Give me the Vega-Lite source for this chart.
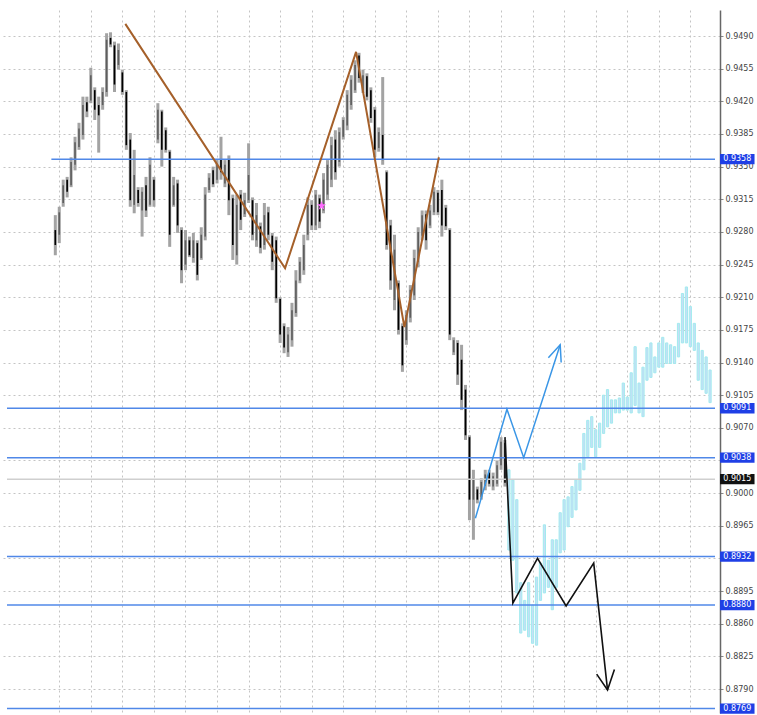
{
"$schema": "https://vega.github.io/schema/vega-lite/v6.json",
"width": 718, "height": 703,
"autosize": {"type": "none"},
"padding": {"left": 2, "top": 10, "right": 37, "bottom": 2},
"background": "white",
"config": {"view": {"stroke": null}, "axis": {"labelFont": "DejaVu Sans"}},
"datasets": {
"bars": [
{"b":15,"h":0.9298,"l":0.9255,"o":0.9282,"c":0.9266},
{"b":16,"h":0.9307,"l":0.9268,"o":0.9277,"c":0.9301},
{"b":17,"h":0.9336,"l":0.9307,"o":0.9311,"c":0.9330},
{"b":18,"h":0.9339,"l":0.9317,"o":0.9336,"c":0.9323},
{"b":19,"h":0.9360,"l":0.9328,"o":0.9330,"c":0.9355},
{"b":20,"h":0.9382,"l":0.9346,"o":0.9352,"c":0.9376},
{"b":21,"h":0.9397,"l":0.9368,"o":0.9371,"c":0.9391},
{"b":22,"h":0.9425,"l":0.9379,"o":0.9384,"c":0.9416},
{"b":23,"h":0.9425,"l":0.9403,"o":0.9419,"c":0.9409},
{"b":24,"h":0.9456,"l":0.9418,"o":0.9421,"c":0.9448},
{"b":25,"h":0.9435,"l":0.9400,"o":0.9432,"c":0.9411},
{"b":26,"h":0.9425,"l":0.9365,"o":0.9416,"c":0.9405},
{"b":27,"h":0.9435,"l":0.9411,"o":0.9416,"c":0.9430},
{"b":28,"h":0.9493,"l":0.9425,"o":0.9430,"c":0.9486},
{"b":29,"h":0.9494,"l":0.9478,"o":0.9488,"c":0.9481},
{"b":30,"h":0.9484,"l":0.9430,"o":0.9480,"c":0.9438},
{"b":31,"h":0.9482,"l":0.9454,"o":0.9459,"c":0.9475},
{"b":32,"h":0.9454,"l":0.9427,"o":0.9451,"c":0.9430},
{"b":33,"h":0.9432,"l":0.9368,"o":0.9430,"c":0.9373},
{"b":34,"h":0.9386,"l":0.9307,"o":0.9379,"c":0.9314},
{"b":35,"h":0.9368,"l":0.9300,"o":0.9309,"c":0.9341},
{"b":36,"h":0.9328,"l":0.9307,"o":0.9325,"c":0.9311},
{"b":37,"h":0.9328,"l":0.9275,"o":0.9303,"c":0.9323},
{"b":38,"h":0.9339,"l":0.9296,"o":0.9330,"c":0.9303},
{"b":39,"h":0.9360,"l":0.9307,"o":0.9309,"c":0.9352},
{"b":40,"h":0.9339,"l":0.9307,"o":0.9336,"c":0.9314},
{"b":41,"h":0.9418,"l":0.9375,"o":0.9379,"c":0.9411},
{"b":42,"h":0.9411,"l":0.9350,"o":0.9409,"c":0.9368},
{"b":43,"h":0.9392,"l":0.9365,"o":0.9389,"c":0.9368},
{"b":44,"h":0.9368,"l":0.9264,"o":0.9366,"c":0.9277},
{"b":45,"h":0.9339,"l":0.9307,"o":0.9309,"c":0.9330},
{"b":46,"h":0.9336,"l":0.9279,"o":0.9332,"c":0.9287},
{"b":47,"h":0.9285,"l":0.9225,"o":0.9282,"c":0.9239},
{"b":48,"h":0.9282,"l":0.9239,"o":0.9245,"c":0.9271},
{"b":49,"h":0.9275,"l":0.9253,"o":0.9271,"c":0.9255},
{"b":50,"h":0.9279,"l":0.9247,"o":0.9252,"c":0.9271},
{"b":51,"h":0.9271,"l":0.9228,"o":0.9268,"c":0.9234},
{"b":52,"h":0.9285,"l":0.9250,"o":0.9252,"c":0.9277},
{"b":53,"h":0.9328,"l":0.9271,"o":0.9275,"c":0.9320},
{"b":54,"h":0.9343,"l":0.9322,"o":0.9325,"c":0.9338},
{"b":55,"h":0.9350,"l":0.9328,"o":0.9346,"c":0.9331},
{"b":56,"h":0.9357,"l":0.9332,"o":0.9336,"c":0.9352},
{"b":57,"h":0.9382,"l":0.9336,"o":0.9357,"c":0.9344},
{"b":58,"h":0.9357,"l":0.9328,"o":0.9332,"c":0.9352},
{"b":59,"h":0.9362,"l":0.9298,"o":0.9357,"c":0.9314},
{"b":60,"h":0.9320,"l":0.9250,"o":0.9316,"c":0.9266},
{"b":61,"h":0.9320,"l":0.9245,"o":0.9255,"c":0.9309},
{"b":62,"h":0.9325,"l":0.9282,"o":0.9320,"c":0.9293},
{"b":63,"h":0.9322,"l":0.9296,"o":0.9299,"c":0.9314},
{"b":64,"h":0.9375,"l":0.9311,"o":0.9314,"c":0.9341},
{"b":65,"h":0.9317,"l":0.9271,"o":0.9314,"c":0.9277},
{"b":66,"h":0.9311,"l":0.9264,"o":0.9271,"c":0.9298},
{"b":67,"h":0.9290,"l":0.9257,"o":0.9286,"c":0.9263},
{"b":68,"h":0.9311,"l":0.9261,"o":0.9266,"c":0.9298},
{"b":69,"h":0.9307,"l":0.9271,"o":0.9301,"c":0.9277},
{"b":70,"h":0.9279,"l":0.9239,"o":0.9276,"c":0.9248},
{"b":71,"h":0.9275,"l":0.9204,"o":0.9271,"c":0.9209},
{"b":72,"h":0.9210,"l":0.9161,"o":0.9208,"c":0.9170},
{"b":73,"h":0.9182,"l":0.9150,"o":0.9179,"c":0.9156},
{"b":74,"h":0.9178,"l":0.9146,"o":0.9151,"c":0.9170},
{"b":75,"h":0.9204,"l":0.9157,"o":0.9164,"c":0.9196},
{"b":76,"h":0.9239,"l":0.9189,"o":0.9193,"c":0.9228},
{"b":77,"h":0.9253,"l":0.9225,"o":0.9228,"c":0.9248},
{"b":78,"h":0.9277,"l":0.9234,"o":0.9239,"c":0.9266},
{"b":79,"h":0.9317,"l":0.9271,"o":0.9277,"c":0.9309},
{"b":80,"h":0.9314,"l":0.9282,"o":0.9309,"c":0.9287},
{"b":81,"h":0.9325,"l":0.9282,"o":0.9287,"c":0.9320},
{"b":82,"h":0.9320,"l":0.9284,"o":0.9316,"c":0.9291},
{"b":83,"h":0.9343,"l":0.9300,"o":0.9303,"c":0.9336},
{"b":84,"h":0.9357,"l":0.9314,"o":0.9320,"c":0.9352},
{"b":85,"h":0.9382,"l":0.9328,"o":0.9336,"c":0.9373},
{"b":86,"h":0.9389,"l":0.9336,"o":0.9379,"c":0.9344},
{"b":87,"h":0.9392,"l":0.9350,"o":0.9355,"c":0.9387},
{"b":88,"h":0.9403,"l":0.9379,"o":0.9382,"c":0.9400},
{"b":89,"h":0.9432,"l":0.9389,"o":0.9394,"c":0.9427},
{"b":90,"h":0.9448,"l":0.9411,"o":0.9416,"c":0.9443},
{"b":91,"h":0.9464,"l":0.9429,"o":0.9432,"c":0.9459},
{"b":92,"h":0.9472,"l":0.9440,"o":0.9469,"c":0.9445},
{"b":93,"h":0.9454,"l":0.9429,"o":0.9432,"c":0.9448},
{"b":94,"h":0.9450,"l":0.9421,"o":0.9447,"c":0.9425},
{"b":95,"h":0.9435,"l":0.9397,"o":0.9432,"c":0.9402},
{"b":96,"h":0.9414,"l":0.9360,"o":0.9411,"c":0.9368},
{"b":97,"h":0.9392,"l":0.9366,"o":0.9370,"c":0.9387},
{"b":98,"h":0.9446,"l":0.9352,"o":0.9384,"c":0.9357},
{"b":99,"h":0.9346,"l":0.9261,"o":0.9344,"c":0.9266},
{"b":100,"h":0.9293,"l":0.9218,"o":0.9287,"c":0.9228},
{"b":101,"h":0.9277,"l":0.9196,"o":0.9207,"c":0.9261},
{"b":102,"h":0.9228,"l":0.9170,"o":0.9225,"c":0.9175},
{"b":103,"h":0.9182,"l":0.9130,"o":0.9179,"c":0.9137},
{"b":104,"h":0.9196,"l":0.9159,"o":0.9164,"c":0.9191},
{"b":105,"h":0.9223,"l":0.9183,"o":0.9188,"c":0.9218},
{"b":106,"h":0.9261,"l":0.9207,"o":0.9212,"c":0.9252},
{"b":107,"h":0.9285,"l":0.9242,"o":0.9248,"c":0.9280},
{"b":108,"h":0.9303,"l":0.9271,"o":0.9276,"c":0.9298},
{"b":109,"h":0.9303,"l":0.9261,"o":0.9299,"c":0.9271},
{"b":110,"h":0.9309,"l":0.9284,"o":0.9287,"c":0.9303},
{"b":111,"h":0.9328,"l":0.9298,"o":0.9301,"c":0.9323},
{"b":112,"h":0.9325,"l":0.9298,"o":0.9322,"c":0.9301},
{"b":113,"h":0.9336,"l":0.9275,"o":0.9325,"c":0.9287},
{"b":114,"h":0.9309,"l":0.9282,"o":0.9306,"c":0.9286},
{"b":115,"h":0.9284,"l":0.9164,"o":0.9282,"c":0.9170},
{"b":116,"h":0.9167,"l":0.9148,"o":0.9151,"c":0.9164},
{"b":117,"h":0.9164,"l":0.9116,"o":0.9161,"c":0.9127},
{"b":118,"h":0.9159,"l":0.9089,"o":0.9143,"c":0.9100},
{"b":119,"h":0.9116,"l":0.9057,"o":0.9111,"c":0.9062},
{"b":120,"h":0.9062,"l":0.8971,"o":0.9060,"c":0.8993},
{"b":121,"h":0.9025,"l":0.8950,"o":0.8993,"c":0.9016},
{"b":122,"h":0.9007,"l":0.8989,"o":0.9004,"c":0.8993},
{"b":123,"h":0.9016,"l":0.8993,"o":0.8996,"c":0.9012},
{"b":124,"h":0.9025,"l":0.9003,"o":0.9008,"c":0.9020},
{"b":125,"h":0.9025,"l":0.9007,"o":0.9022,"c":0.9010},
{"b":126,"h":0.9022,"l":0.9003,"o":0.9007,"c":0.9018},
{"b":127,"h":0.9035,"l":0.9007,"o":0.9010,"c":0.9030},
{"b":128,"h":0.9060,"l":0.9025,"o":0.9030,"c":0.9055},
{"b":129,"h":0.9057,"l":0.9007,"o":0.9054,"c":0.9011}
],
"cyan": [
{"b":130,"h":0.9025,"l":0.8939},
{"b":131,"h":0.9014,"l":0.8928},
{"b":132,"h":0.8993,"l":0.8893},
{"b":133,"h":0.8904,"l":0.8850},
{"b":134,"h":0.8885,"l":0.8853},
{"b":135,"h":0.8904,"l":0.8846},
{"b":136,"h":0.8880,"l":0.8839},
{"b":137,"h":0.8910,"l":0.8837},
{"b":138,"h":0.8925,"l":0.8885},
{"b":139,"h":0.8966,"l":0.8893},
{"b":140,"h":0.8928,"l":0.8899},
{"b":141,"h":0.8950,"l":0.8875},
{"b":142,"h":0.8950,"l":0.8899},
{"b":143,"h":0.8979,"l":0.8936},
{"b":144,"h":0.8993,"l":0.8939},
{"b":145,"h":0.8996,"l":0.8964},
{"b":146,"h":0.9007,"l":0.8974},
{"b":147,"h":0.9014,"l":0.8982},
{"b":148,"h":0.9032,"l":0.9003},
{"b":149,"h":0.9064,"l":0.9025},
{"b":150,"h":0.9078,"l":0.9039},
{"b":151,"h":0.9082,"l":0.9049},
{"b":152,"h":0.9068,"l":0.9039},
{"b":153,"h":0.9075,"l":0.9049},
{"b":154,"h":0.9105,"l":0.9064},
{"b":155,"h":0.9111,"l":0.9071},
{"b":156,"h":0.9100,"l":0.9075},
{"b":157,"h":0.9100,"l":0.9086},
{"b":158,"h":0.9102,"l":0.9086},
{"b":159,"h":0.9118,"l":0.9089},
{"b":160,"h":0.9103,"l":0.9089},
{"b":161,"h":0.9129,"l":0.9086},
{"b":162,"h":0.9157,"l":0.9094},
{"b":163,"h":0.9118,"l":0.9086},
{"b":164,"h":0.9135,"l":0.9082},
{"b":165,"h":0.9156,"l":0.9121},
{"b":166,"h":0.9161,"l":0.9124},
{"b":167,"h":0.9146,"l":0.9129},
{"b":168,"h":0.9161,"l":0.9135},
{"b":169,"h":0.9167,"l":0.9135},
{"b":170,"h":0.9161,"l":0.9139},
{"b":171,"h":0.9159,"l":0.9139},
{"b":172,"h":0.9157,"l":0.9139},
{"b":173,"h":0.9182,"l":0.9146},
{"b":174,"h":0.9214,"l":0.9161},
{"b":175,"h":0.9221,"l":0.9161},
{"b":176,"h":0.9200,"l":0.9157},
{"b":177,"h":0.9182,"l":0.9153},
{"b":178,"h":0.9161,"l":0.9121},
{"b":179,"h":0.9153,"l":0.9111},
{"b":180,"h":0.9146,"l":0.9107},
{"b":181,"h":0.9132,"l":0.9097}
],
"levels": [
{"p":0.9358,"from":14,"to":182.25,"k":"blue"},
{"p":0.9091,"from":2.75,"to":182.25,"k":"blue"},
{"p":0.9038,"from":2.75,"to":182.25,"k":"blue"},
{"p":0.9015,"from":2.75,"to":182.25,"k":"gray"},
{"p":0.8932,"from":2.75,"to":182.25,"k":"blue"},
{"p":0.8880,"from":2.75,"to":182.25,"k":"blue"},
{"p":0.8769,"from":2.75,"to":182.25,"k":"blue"}
],
"paths": [
{"g":"br","k":0,"b":32.75,"p":0.9503},
{"g":"br","k":1,"b":73.25,"p":0.9241},
{"g":"br","k":2,"b":91.25,"p":0.9473},
{"g":"br","k":3,"b":103.5,"p":0.9178},
{"g":"br","k":4,"b":112.25,"p":0.9360},
{"g":"bl","k":0,"b":121.5,"p":0.8973},
{"g":"bl","k":1,"b":129.5,"p":0.9090},
{"g":"bl","k":2,"b":133.75,"p":0.9038},
{"g":"bl","k":3,"b":143,"p":0.9159},
{"g":"bla","k":0,"b":140,"p":0.9145},
{"g":"bla","k":1,"b":143,"p":0.9159},
{"g":"bla","k":2,"b":143.25,"p":0.9140},
{"g":"bk","k":0,"b":129,"p":0.9060},
{"g":"bk","k":1,"b":131,"p":0.8882},
{"g":"bk","k":2,"b":137.25,"p":0.8930},
{"g":"bk","k":3,"b":144.5,"p":0.8879},
{"g":"bk","k":4,"b":151.5,"p":0.8925},
{"g":"bk","k":5,"b":155,"p":0.8789},
{"g":"bka","k":0,"b":152.25,"p":0.8806},
{"g":"bka","k":1,"b":155,"p":0.8789},
{"g":"bka","k":2,"b":156.75,"p":0.8811}
],
"stars": [{"b":82.5,"p":0.9308}],
"tags": [
{"p":0.9358,"t":"0.9358","k":"blue"},
{"p":0.9091,"t":"0.9091","k":"blue"},
{"p":0.9038,"t":"0.9038","k":"blue"},
{"p":0.9015,"t":"0.9015","k":"black"},
{"p":0.8932,"t":"0.8932","k":"blue"},
{"p":0.8880,"t":"0.8880","k":"blue"},
{"p":0.8769,"t":"0.8769","k":"blue"}
]
},
"layer": [
{
"data": {"name": "bars"},
"mark": {"type": "rule", "color": "#a3a3a3", "strokeWidth": 3},
"encoding": {
"x": {"field": "b", "type": "quantitative", "title": null,
"scale": {"domain": [2.75, 182.25], "nice": false, "zero": false},
"axis": {"orient": "bottom", "values": [16,24,32,40,48,56,64,72,80,88,96,104,112,120,128,136,144,152,160,168,176], "tickCount": 40, "labels": false, "ticks": false, "domain": false, "grid": true, "gridColor": "#c4c4c4", "gridDash": [2,3], "gridWidth": 1, "title": null}},
"y": {"field": "h", "type": "quantitative", "title": null,
"scale": {"domain": [0.87643, 0.95179], "nice": false, "zero": false},
"axis": {"orient": "right", "values": [0.949,0.9455,0.942,0.9385,0.935,0.9315,0.928,0.9245,0.921,0.9175,0.914,0.9105,0.907,0.9035,0.9,0.8965,0.893,0.8895,0.886,0.8825,0.879], "tickCount": 40, "format": ".4f", "labelExpr": "(datum.value == 0.9035 || datum.value == 0.893) ? '' : datum.label", "labelOverlap": false, "labelFontSize": 8, "labelColor": "#444444", "tickSize": 3, "tickColor": "#888888", "domainColor": "#666666", "domainWidth": 1.5, "grid": true, "gridColor": "#c4c4c4", "gridDash": [2,3], "gridWidth": 1, "labelPadding": 2, "title": null}},
"y2": {"field": "l"}
}
},
{
"data": {"name": "bars"},
"mark": {"type": "rule", "strokeWidth": 1.6},
"encoding": {
"x": {"field": "b", "type": "quantitative", "title": null},
"y": {"field": "o", "type": "quantitative", "title": null},
"y2": {"field": "c"},
"color": {"condition": {"test": "datum.c < datum.o", "value": "#000000"}, "value": "#5e5e5e"}
}
},
{
"data": {"name": "cyan"},
"mark": {"type": "bar", "size": 2.2, "fill": "#c6def7", "stroke": "#a2ebee", "strokeWidth": 1},
"encoding": {
"x": {"field": "b", "type": "quantitative", "title": null},
"y": {"field": "h", "type": "quantitative", "title": null},
"y2": {"field": "l"}
}
},
{
"data": {"name": "levels"},
"mark": {"type": "rule", "strokeWidth": 1.5},
"encoding": {
"x": {"field": "from", "type": "quantitative", "title": null},
"x2": {"field": "to"},
"y": {"field": "p", "type": "quantitative", "title": null},
"color": {"condition": {"test": "datum.k == 'gray'", "value": "#cfcfcf"}, "value": "#5088e8"}
}
},
{
"data": {"name": "paths"},
"transform": [{"filter": "datum.g == 'br'"}],
"mark": {"type": "line", "color": "#a5602a", "strokeWidth": 2},
"encoding": {
"x": {"field": "b", "type": "quantitative", "title": null},
"y": {"field": "p", "type": "quantitative", "title": null},
"order": {"field": "k"}
}
},
{
"data": {"name": "paths"},
"transform": [{"filter": "datum.g == 'bl' || datum.g == 'bla'"}],
"mark": {"type": "line", "color": "#3a96e6", "strokeWidth": 1.5},
"encoding": {
"x": {"field": "b", "type": "quantitative", "title": null},
"y": {"field": "p", "type": "quantitative", "title": null},
"detail": {"field": "g"},
"order": {"field": "k"}
}
},
{
"data": {"name": "paths"},
"transform": [{"filter": "datum.g == 'bk' || datum.g == 'bka'"}],
"mark": {"type": "line", "color": "#111111", "strokeWidth": 1.6},
"encoding": {
"x": {"field": "b", "type": "quantitative", "title": null},
"y": {"field": "p", "type": "quantitative", "title": null},
"detail": {"field": "g"},
"order": {"field": "k"}
}
},
{
"data": {"name": "stars"},
"mark": {"type": "point", "filled": true, "color": "#ff6bff", "opacity": 1, "size": 90, "shape": "M0,-1L0.24,-0.32L0.95,-0.31L0.38,0.12L0.59,0.81L0,0.4L-0.59,0.81L-0.38,0.12L-0.95,-0.31L-0.24,-0.32Z"},
"encoding": {
"x": {"field": "b", "type": "quantitative", "title": null},
"y": {"field": "p", "type": "quantitative", "title": null}
}
},
{
"data": {"name": "tags"},
"mark": {"type": "point", "filled": true, "opacity": 1, "size": 1190, "shape": "M-1,-0.3L1,-0.3L1,0.3L-1,0.3Z"},
"encoding": {
"x": {"datum": 187.9},
"y": {"field": "p", "type": "quantitative", "title": null},
"color": {"condition": {"test": "datum.k == 'black'", "value": "#111111"}, "value": "#1f3fe6"}
}
},
{
"data": {"name": "tags"},
"mark": {"type": "text", "color": "white", "fontSize": 8, "font": "DejaVu Sans", "align": "center", "baseline": "middle"},
"encoding": {
"x": {"datum": 187.9},
"y": {"field": "p", "type": "quantitative", "title": null},
"text": {"field": "t"}
}
}
]
}
